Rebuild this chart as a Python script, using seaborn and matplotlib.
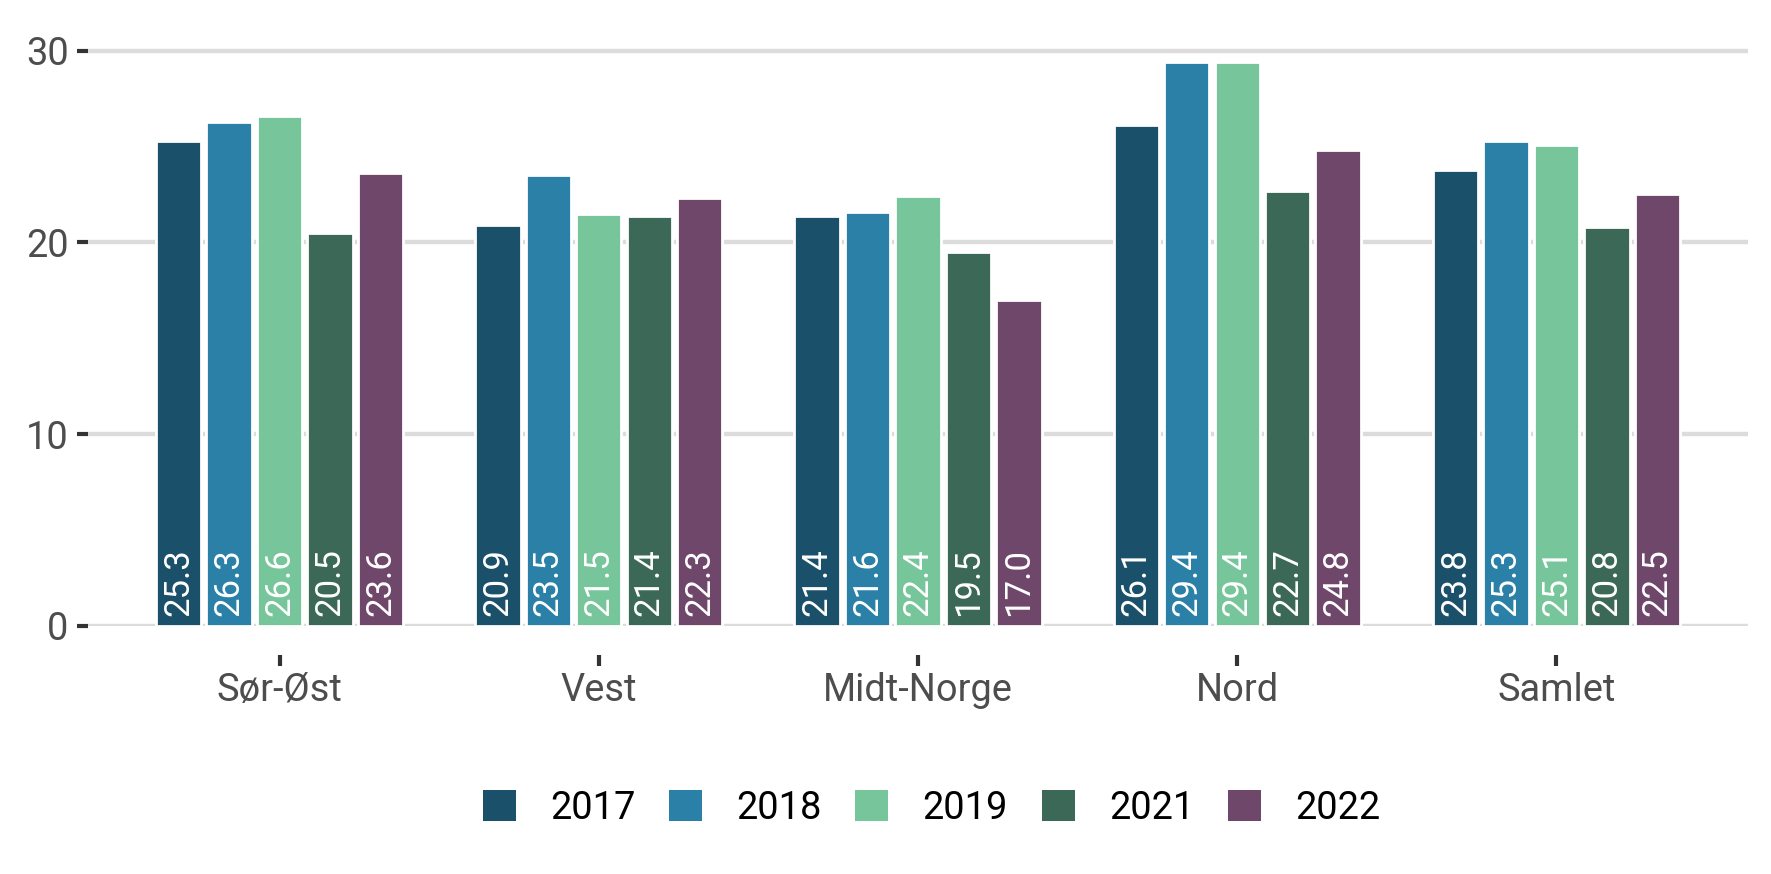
import pandas as pd
import numpy as np
import matplotlib
matplotlib.use("Agg")
import matplotlib.pyplot as plt
import seaborn as sns
from matplotlib.patches import Patch

# ==========================================
# Data
# ==========================================

regions = ["Sør-Øst", "Vest", "Midt-Norge", "Nord", "Samlet"]
years = ["2017", "2018", "2019", "2021", "2022"]

v2017 = [25.3, 20.9, 21.4, 26.1, 23.8]
v2018 = [26.3, 23.5, 21.6, 29.4, 25.3]
v2019 = [26.6, 21.5, 22.4, 29.4, 25.1]
v2021 = [20.5, 21.4, 19.5, 22.7, 20.8]
v2022 = [23.6, 22.3, 17.0, 24.8, 22.5]

colors = ["#1B506B", "#2B80A8", "#77C59A", "#3C6858", "#6F476B"]

series = [v2017, v2018, v2019, v2021, v2022]
df = pd.DataFrame({
    "region": np.tile(regions, len(years)),
    "year": np.repeat(years, len(regions)),
    "value": np.concatenate(series),
})

# ==========================================
# Plot
# ==========================================

sns.set_theme(style="white")
plt.rcParams["font.family"] = ["Roboto", "DejaVu Sans"]

fig = plt.figure(figsize=(8.855, 4.37), dpi=200)
ax = fig.add_axes([0.0497, 0.2841, 0.9373, 0.6688])

sns.barplot(
    data=df, x="region", y="value", hue="year",
    order=regions, hue_order=years, palette=colors,
    width=0.79, gap=0.1, saturation=1, legend=False, ax=ax
)

# labels inside bars
for container, vals in zip(ax.containers, series):
    for patch, v in zip(container.patches, vals):
        ax.text(
            patch.get_x() + patch.get_width() / 2, 0.5, f"{v:.1f}",
            rotation=90, ha="center", va="bottom",
            color="white", fontsize=12.5
        )

ax.set_xlim(-0.6, 4.6)
ax.set_ylim(0, 30.5)
ax.set_yticks([0, 10, 20, 30])
ax.yaxis.grid(True, color="#DCDCDC", linewidth=1.6)
ax.xaxis.grid(False)
ax.set_axisbelow(True)

for s in ax.spines.values():
    s.set_visible(False)
ax.spines["bottom"].set_position(("outward", 10.5))

ax.tick_params(axis="y", length=4, width=1.5, color="#333333",
               labelsize=13.7, labelcolor="#4D4D4D", pad=3, left=True)
ax.tick_params(axis="x", length=4, width=1.5, color="#333333",
               labelsize=13.7, labelcolor="#4D4D4D", pad=2, bottom=True)
ax.set_xlabel("")
ax.set_ylabel("")

handles = [Patch(facecolor=c, edgecolor="none") for c in colors]
leg = fig.legend(
    handles, years, loc="center", bbox_to_anchor=(0.526, 0.0755),
    ncol=5, frameon=False, fontsize=13.7,
    handlelength=0.87, handleheight=0.87,
    handletextpad=0.9, columnspacing=0.88
)
for t in leg.get_texts():
    t.set_color("black")

plt.savefig("out.png", dpi=200)
